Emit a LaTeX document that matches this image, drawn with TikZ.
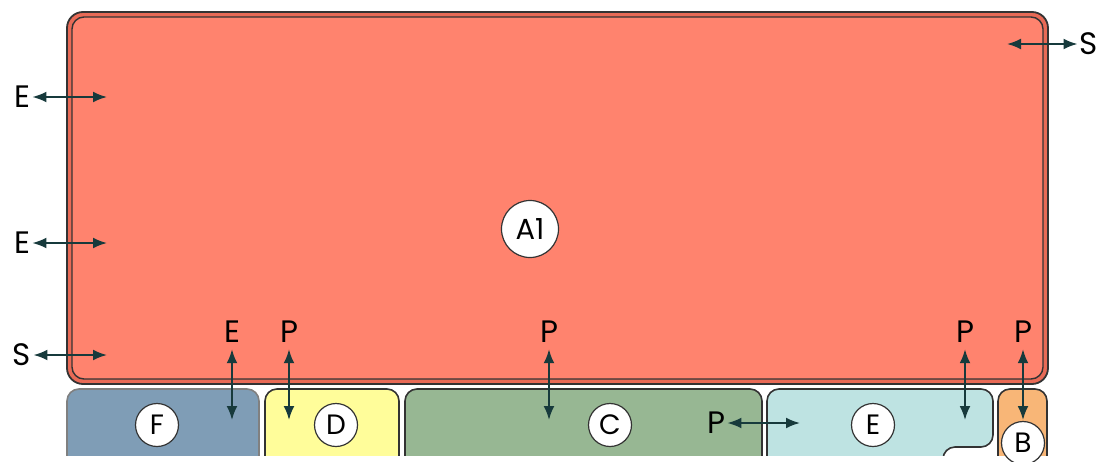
\documentclass[tikz,border=0pt]{standalone}
\usepackage{fontspec}
\setmainfont{Poppins}
\usetikzlibrary{arrows.meta}
\definecolor{salmon}{HTML}{FF836E}
\definecolor{salmondark}{HTML}{E86A56}
\definecolor{fblue}{HTML}{7F9DB6}
\definecolor{dyellow}{HTML}{FFFD9A}
\definecolor{cgreen}{HTML}{97B793}
\definecolor{ecyan}{HTML}{BEE3E2}
\definecolor{borange}{HTML}{F8B677}
\definecolor{edge}{HTML}{333333}
\definecolor{arr}{HTML}{173A3C}
\tikzset{
  lbl/.style={font=\fontsize{15.5}{16}\selectfont, text=black, inner sep=0pt},
  tag/.style={circle, draw=edge, line width=0.6pt, fill=white, minimum size=21.5pt, inner sep=0pt, font=\fontsize{14}{15}\selectfont},
  bigtag/.style={circle, draw=edge, line width=0.6pt, fill=white, minimum size=28.5pt, inner sep=0pt, font=\fontsize{14.5}{15}\selectfont},
  dbl/.style={draw=arr, line width=0.9pt, {Latex[length=7pt,width=5.4pt]}-{Latex[length=7pt,width=5.4pt]}},
  part/.style={draw=edge, line width=0.8pt, rounded corners=6pt}
}
\begin{document}
\begin{tikzpicture}[x=0.5pt,y=-0.5pt]
\useasboundingbox (0,0) rectangle (1102,461);
% big area A1
\draw[draw=edge, line width=0.9pt, fill=salmondark, rounded corners=8pt] (67,12) rectangle (1048,384);
\draw[draw=edge, line width=0.7pt, fill=salmon, rounded corners=6pt] (72,17) rectangle (1043,379);
\node[bigtag] (A1) at (530,229) {A1};
% bottom parts
\begin{scope}
\clip (0,0) rectangle (1102,455);
\draw[part, fill=fblue, draw=gray] (67,470) -- (67,389) -- (259,389) -- (259,470);
\draw[part, fill=dyellow] (265,470) -- (265,389) -- (399,389) -- (399,470);
\draw[part, fill=cgreen] (405,470) -- (405,389) -- (762,389) -- (762,470);
\draw[part, fill=ecyan] (767,470) -- (767,389) -- (993,389) -- (993,447) -- (943,447) -- (943,470);
\draw[part, fill=borange] (998,470) -- (998,389) -- (1047,389) -- (1047,470);
\end{scope}
\node[tag] (F) at (157,425) {F};
\node[tag] (D) at (336,425) {D};
\node[tag] (C) at (610,425) {C};
\node[tag] (E) at (873,425) {E};
\node[tag] (B) at (1023,443) {B};
% labels and arrows
\node[lbl] (e1) at (22,97) {E};
\coordinate (e1t) at (107,97);
\draw[dbl] ([xshift=1pt]e1.east) -- (e1t);
\node[lbl] (e2) at (22,243) {E};
\coordinate (e2t) at (107,243);
\draw[dbl] ([xshift=1pt]e2.east) -- (e2t);
\node[lbl] (s1) at (22,355) {S};
\coordinate (s1t) at (107,355);
\draw[dbl] ([xshift=1pt]s1.east) -- (s1t);
\node[lbl] (s2) at (1089,44) {S};
\coordinate (s2t) at (1007,44);
\draw[dbl] ([xshift=-1pt]s2.west) -- (s2t);
\node[lbl] (e3) at (232,332) {E};
\coordinate (e3t) at (232,420);
\draw[dbl] ([yshift=-3pt]e3.south) -- (e3t);
\node[lbl] (p1) at (289,332) {P};
\coordinate (p1t) at (289,420);
\draw[dbl] ([yshift=-3pt]p1.south) -- (p1t);
\node[lbl] (p2) at (549,332) {P};
\coordinate (p2t) at (549,420);
\draw[dbl] ([yshift=-3pt]p2.south) -- (p2t);
\node[lbl] (p3) at (965,332) {P};
\coordinate (p3t) at (965,420);
\draw[dbl] ([yshift=-3pt]p3.south) -- (p3t);
\node[lbl] (p4) at (1023,332) {P};
\coordinate (p4t) at (1023,420);
\draw[dbl] ([yshift=-3pt]p4.south) -- (p4t);
\node[lbl] (p5) at (716,423) {P};
\coordinate (p5t) at (800,423);
\draw[dbl] ([xshift=1pt]p5.east) -- (p5t);
\end{tikzpicture}
\end{document}
